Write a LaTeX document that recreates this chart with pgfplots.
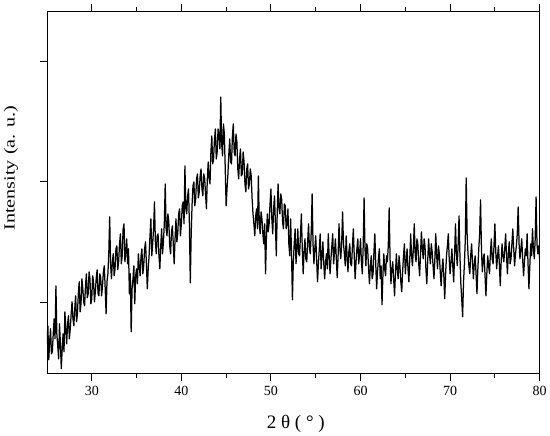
\documentclass[border=0pt]{standalone}
\usepackage{fontspec}
\setmainfont{Liberation Serif}
\usepackage{graphicx}
\usepackage{pgfplots}
\pgfplotsset{compat=1.18}
\pgfplotstableread{
x y
25.0 30
25.1 48
25.2 14
25.3 32
25.4 45
25.5 20
25.6 22
25.7 40
25.8 55
25.9 35
26.0 88
26.1 40
26.2 28
26.3 15
26.4 50
26.5 30
26.6 5
26.7 25
26.8 40
26.9 22
27.0 62
27.1 45
27.2 30
27.3 50
27.4 58
27.5 35
27.6 45
27.7 60
27.8 72
27.9 55
28.0 48
28.1 65
28.2 78
28.3 52
28.4 60
28.5 80
28.6 92
28.7 62
28.8 70
28.9 95
29.0 85
29.1 72
29.2 68
29.3 88
29.4 100
29.5 76
29.6 80
29.7 102
29.8 95
29.9 70
30.0 75
30.1 98
30.2 92
30.3 72
30.4 82
30.5 96
30.6 104
30.7 80
30.8 78
30.9 100
31.0 96
31.1 78
31.2 88
31.3 102
31.4 108
31.5 85
31.6 60
31.7 92
31.8 100
31.9 120
32.0 157
32.1 110
32.2 95
32.3 112
32.4 120
32.5 98
32.6 105
32.7 125
32.8 128
32.9 104
33.0 112
33.1 130
33.2 140
33.3 110
33.4 118
33.5 145
33.6 150
33.7 112
33.8 122
33.9 135
34.0 110
34.1 125
34.2 80
34.3 100
34.4 42
34.5 85
34.6 95
34.7 108
34.8 70
34.9 98
35.0 105
35.1 90
35.2 120
35.3 108
35.4 98
35.5 118
35.6 125
35.7 100
35.8 108
35.9 125
36.0 132
36.1 110
36.2 85
36.3 105
36.4 118
36.5 138
36.6 155
36.7 118
36.8 130
36.9 145
37.0 172
37.1 132
37.2 120
37.3 138
37.4 140
37.5 118
37.6 105
37.7 128
37.8 145
37.9 120
38.0 132
38.1 150
38.2 190
38.3 145
38.4 138
38.5 160
38.6 152
38.7 128
38.8 120
38.9 142
39.0 148
39.1 130
39.2 110
39.3 135
39.4 155
39.5 132
39.6 140
39.7 160
39.8 165
39.9 138
40.0 150
40.1 168
40.2 172
40.3 150
40.4 208
40.5 165
40.6 160
40.7 178
40.8 185
40.9 150
41.0 91
41.1 140
41.2 170
41.3 188
41.4 192
41.5 168
41.6 175
41.7 195
41.8 200
41.9 176
42.0 182
42.1 198
42.2 205
42.3 185
42.4 178
42.5 200
42.6 196
42.7 180
42.8 165
42.9 195
43.0 212
43.1 195
43.2 190
43.3 222
43.4 238
43.5 210
43.6 215
43.7 235
43.8 245
43.9 215
44.0 222
44.1 245
44.2 240
44.3 225
44.4 277
44.5 230
44.6 218
44.7 250
44.8 240
44.9 205
45.0 168
45.1 185
45.2 200
45.3 220
45.4 235
45.5 212
45.6 210
45.7 238
45.8 250
45.9 222
46.0 218
46.1 240
46.2 232
46.3 205
46.4 195
46.5 215
46.6 225
46.7 198
46.8 200
46.9 222
47.0 212
47.1 190
47.2 182
47.3 205
47.4 210
47.5 185
47.6 190
47.7 205
47.8 198
47.9 175
48.0 160
48.1 150
48.2 138
48.3 158
48.4 165
48.5 145
48.6 198
48.7 150
48.8 140
48.9 162
49.0 155
49.1 140
49.2 130
49.3 150
49.4 100
49.5 138
49.6 160
49.7 142
49.8 150
49.9 170
50.0 185
50.1 155
50.2 140
50.3 165
50.4 178
50.5 150
50.6 118
50.7 160
50.8 190
50.9 165
51.0 160
51.1 180
51.2 175
51.3 152
51.4 145
51.5 170
51.6 168
51.7 145
51.8 150
51.9 165
52.0 130
52.1 118
52.2 155
52.3 120
52.4 74
52.5 112
52.6 130
52.7 145
52.8 110
52.9 125
53.0 145
53.1 120
53.2 118
53.3 140
53.4 160
53.5 125
53.6 100
53.7 122
53.8 135
53.9 115
54.0 112
54.1 132
54.2 150
54.3 125
54.4 120
54.5 142
54.6 180
54.7 130
54.8 110
54.9 125
55.0 138
55.1 115
55.2 92
55.3 110
55.4 125
55.5 140
55.6 105
55.7 118
55.8 132
55.9 110
56.0 95
56.1 112
56.2 120
56.3 105
56.4 140
56.5 118
56.6 100
56.7 115
56.8 128
56.9 140
57.0 110
57.1 122
57.2 135
57.3 115
57.4 96
57.5 118
57.6 150
57.7 125
57.8 115
57.9 132
58.0 162
58.1 130
58.2 120
58.3 108
58.4 138
58.5 118
58.6 102
58.7 122
58.8 130
58.9 110
59.0 108
59.1 128
59.2 145
59.3 118
59.4 95
59.5 112
59.6 125
59.7 135
59.8 110
59.9 120
60.0 135
60.1 112
60.2 100
60.3 128
60.4 176
60.5 125
60.6 108
60.7 130
60.8 125
60.9 105
61.0 90
61.1 108
61.2 118
61.3 95
61.4 100
61.5 122
61.6 140
61.7 110
61.8 85
61.9 102
62.0 115
62.1 125
62.2 95
62.3 108
62.4 69
62.5 98
62.6 120
62.7 105
62.8 98
62.9 118
63.0 112
63.1 128
63.2 166
63.3 115
63.4 90
63.5 105
63.6 112
63.7 95
63.8 78
63.9 100
64.0 120
64.1 105
64.2 95
64.3 118
64.4 108
64.5 92
64.6 82
64.7 102
64.8 118
64.9 130
65.0 100
65.1 112
65.2 125
65.3 105
65.4 92
65.5 115
65.6 140
65.7 118
65.8 108
65.9 125
66.0 150
66.1 120
66.2 112
66.3 135
66.4 130
66.5 110
66.6 98
66.7 120
66.8 142
66.9 125
67.0 115
67.1 135
67.2 128
67.3 105
67.4 90
67.5 112
67.6 135
67.7 120
67.8 110
67.9 130
68.0 122
68.1 108
68.2 95
68.3 115
68.4 140
68.5 118
68.6 105
68.7 128
68.8 120
68.9 102
69.0 88
69.1 105
69.2 115
69.3 98
69.4 75
69.5 100
69.6 118
69.7 128
69.8 140
69.9 115
70.0 100
70.1 112
70.2 125
70.3 108
70.4 92
70.5 118
70.6 150
70.7 122
70.8 108
70.9 130
71.0 158
71.1 118
71.2 90
71.3 75
71.4 57
71.5 92
71.6 110
71.7 135
71.8 196
71.9 140
72.0 120
72.1 108
72.2 100
72.3 118
72.4 130
72.5 112
72.6 95
72.7 110
72.8 118
72.9 100
73.0 80
73.1 105
73.2 125
73.3 140
73.4 174
73.5 125
73.6 102
73.7 115
73.8 120
73.9 98
74.0 78
74.1 100
74.2 118
74.3 108
74.4 100
74.5 120
74.6 135
74.7 115
74.8 110
74.9 128
75.0 150
75.1 122
75.2 105
75.3 118
75.4 128
75.5 110
75.6 88
75.7 112
75.8 130
75.9 118
76.0 112
76.1 125
76.2 140
76.3 118
76.4 100
76.5 120
76.6 132
76.7 110
76.8 115
76.9 130
77.0 145
77.1 125
77.2 108
77.3 120
77.4 128
77.5 140
77.6 167
77.7 130
77.8 115
77.9 125
78.0 135
78.1 115
78.2 98
78.3 112
78.4 125
78.5 118
78.6 140
78.7 110
78.8 85
78.9 108
79.0 130
79.1 118
79.2 145
79.3 125
79.4 115
79.5 135
79.6 177
79.7 130
79.8 120
79.9 128
80.0 115
}\xrd
\begin{document}
\begin{tikzpicture}
\begin{axis}[
  scale only axis, width=493pt, height=363pt,
  xmin=25, xmax=80, ymin=0, ymax=363,
  xtick={30,40,50,60,70,80},
  minor xtick={35,45,55,65,75},
  ytick={71,192,313}, yticklabels={},
  tick align=outside,
  xtick pos=both, ytick pos=left,
  major tick length=7pt, minor tick length=4pt,
  tick style={black, line width=0.9pt},
  axis line style={line width=0.9pt},
  /pgf/number format/assume math mode=true,
  xticklabel style={font=\fontsize{14}{16}\selectfont, yshift=-2pt},
  xlabel={2 θ ( ° )},
  xlabel style={font=\fontsize{19}{22}\selectfont, at={(axis description cs:0.505,-0.138)}, anchor=center},
  ylabel={\scalebox{1.3}[1]{Intensity (a. u.)}},
  ylabel style={font=\fontsize{15.5}{18}\selectfont, at={(axis description cs:-0.073,0.567)}, anchor=center},
  clip=true,
]
\addplot[black, line width=1.25pt, line join=round] table[x=x, y=y] {\xrd};
\end{axis}
\path (current axis.south west) ++(-47pt,-62pt) rectangle ([shift={(10pt,11pt)}]current axis.north east);
\end{tikzpicture}
\end{document}
